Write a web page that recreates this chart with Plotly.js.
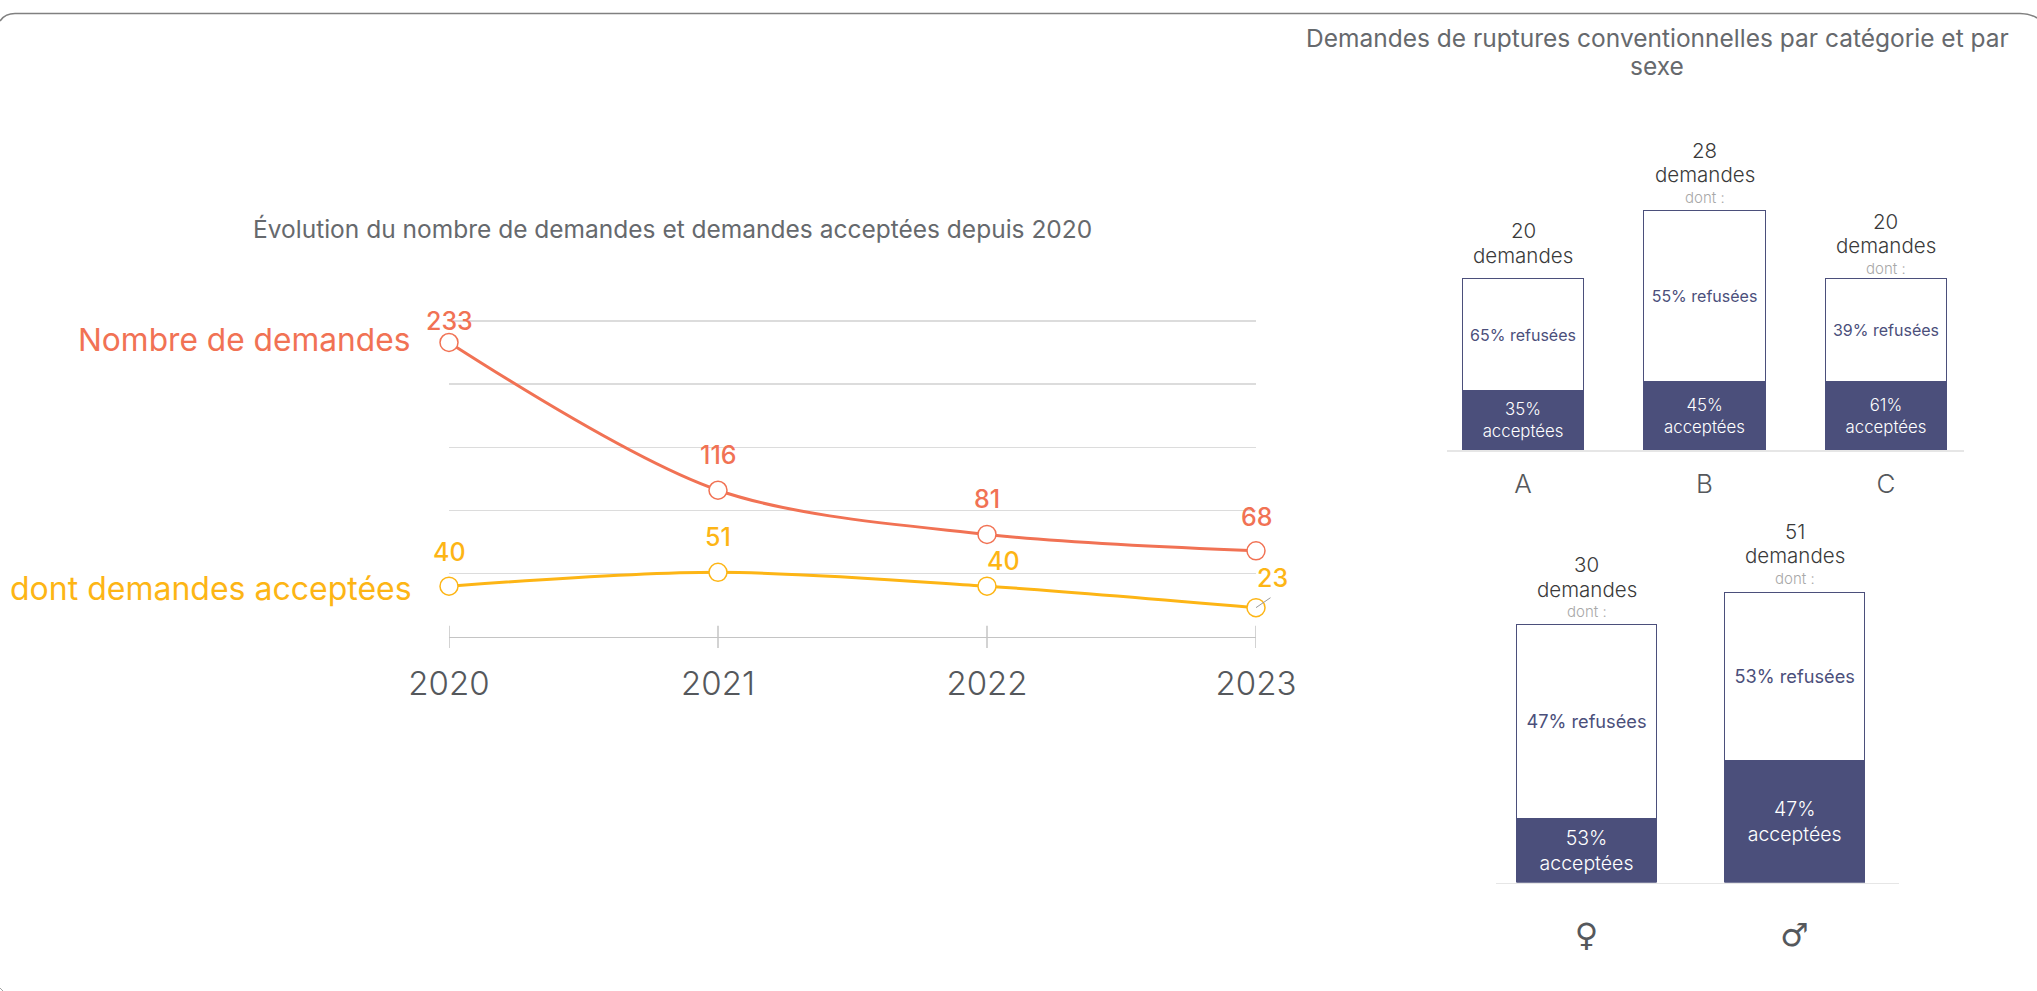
<!DOCTYPE html>
<html><head><meta charset="utf-8">
<script src="https://cdn.plot.ly/plotly-3.0.1.min.js"></script>
<style>html,body{margin:0;padding:0;background:#fff;overflow:hidden}</style>
</head><body><div id="chart" style="width:2037px;height:991px"></div>
<script>
// ---- data ----
const annees = [2020, 2021, 2022, 2023];
const nombreDemandes = [233, 116, 81, 68];
const demandesAcceptees = [40, 51, 40, 23];

const categories = ['A', 'B', 'C'];
const catTotaux = [20, 28, 20];
const catAcceptees = [7, 8, 8];
const catRefusees = [13, 20, 12];
const catTexteAcc = ['35%<br>acceptées', '45%<br>acceptées', '61%<br>acceptées'];
const catTexteRef = ['65% refusées', '55% refusées', '39% refusées'];
const catDont = [false, true, true];

const sexes = ['♀', '♂'];
const sexeTotaux = [30, 51];
const sexeAcceptees = [7.5, 14.2];
const sexeRefusees = [22.5, 19.6];
const sexeTexteAcc = ['53%<br>acceptées', '47%<br>acceptées'];
const sexeTexteRef = ['47% refusées', '53% refusées'];
const sexeDont = [true, true];

const titreGauche = 'Évolution du nombre de demandes et demandes acceptées depuis 2020';
const titreDroite1 = 'Demandes de ruptures conventionnelles par catégorie et par';
const titreDroite2 = 'sexe';
const nomSerie1 = 'Nombre de demandes';
const nomSerie2 = 'dont demandes acceptées';

// ---- style ----
const W = 2037, H = 991;
const FONT = 'Inter, "Open Sans", sans-serif';
const ROUGE = '#f17254', JAUNE = '#fdb515', NAVY = '#4b4f7b';
const px = v => v / W, py = v => 1 - v / H;

const traces = [];
function ligne(y, c, name) {
  traces.push({type: 'scatter', mode: 'lines+markers', x: annees, y, name,
    line: {color: c, width: 3, shape: 'spline', smoothing: 0.9},
    marker: {size: 18, color: '#fff', line: {color: c, width: 1.5}},
    cliponaxis: false, xaxis: 'x', yaxis: 'y', showlegend: false, hoverinfo: 'x+y'});
}
ligne(nombreDemandes, ROUGE, nomSerie1);
ligne(demandesAcceptees, JAUNE, nomSerie2);

function barres(cats, acc, ref, tAcc, tRef, xa, ya, width, sizeAcc, sizeRef) {
  traces.push({type: 'bar', x: cats, y: acc, text: tAcc, width, xaxis: xa, yaxis: ya,
    marker: {color: NAVY, line: {color: NAVY, width: 1}},
    textposition: 'inside', insidetextanchor: 'middle', textangle: 0, constraintext: 'none',
    insidetextfont: {family: FONT, size: sizeAcc, color: '#fff', weight: 300}, showlegend: false, hoverinfo: 'x+y'});
  traces.push({type: 'bar', x: cats, y: ref, text: tRef, width, xaxis: xa, yaxis: ya,
    marker: {color: '#fff', line: {color: NAVY, width: 1}},
    textposition: 'inside', insidetextanchor: 'middle', textangle: 0, constraintext: 'none',
    insidetextfont: {family: FONT, size: sizeRef, color: NAVY, weight: 400}, showlegend: false, hoverinfo: 'x+y'});
}
barres(categories, catAcceptees, catRefusees, catTexteAcc, catTexteRef, 'x2', 'y2', 0.669, 16.8, 16);
barres(sexes, sexeAcceptees, sexeRefusees, sexeTexteAcc, sexeTexteRef, 'x3', 'y3', 0.672, 19.5, 18.2);

const annotations = [];
function note(text, x, y, size, color, opt, weight) {
  annotations.push(Object.assign({text, x, y, showarrow: false, align: 'center', xanchor: 'center', yanchor: 'middle',
    font: {family: FONT, size, color, weight: weight || 400}}, opt));
}
const paper = {xref: 'paper', yref: 'paper'};
const GRIS = '#66696d';
note(titreGauche, px(672.7), py(228.6), 24.5, GRIS, paper);
note(titreDroite1, px(1657), py(37.7), 24.5, GRIS, paper);
note(titreDroite2, px(1657), py(66), 24.5, GRIS, paper);
note(nomSerie1, px(412), py(339), 31.7, ROUGE, Object.assign({xanchor: 'right'}, paper));
note(nomSerie2, px(414), py(588), 32, JAUNE, Object.assign({xanchor: 'right'}, paper));

// étiquettes de valeurs
const decal1 = [[0, -21], [0, -35], [0, -35], [0, -34]];
const decal2 = [[0, -34], [0, -35], [16, -25], [16, -30]];
function valeurs(y, c, dec) {
  y.forEach((v, i) => note(String(v), annees[i], v, 25, c, {xref: 'x', yref: 'y', xshift: dec[i][0], yshift: -dec[i][1]}, 500));
}
valeurs(nombreDemandes, ROUGE, decal1);
valeurs(demandesAcceptees, JAUNE, decal2);
// trait de rappel du « 23 »
annotations.push({x: annees[3], y: demandesAcceptees[3], xref: 'x', yref: 'y', text: '', showarrow: true,
  arrowhead: 0, arrowwidth: 1, arrowcolor: '#999', ax: 16, ay: -11, standoff: 0});

// totaux au-dessus des barres
function totaux(cats, tot, acc, ref, dont, xa, ya, decNb, decMot, decDont) {
  cats.forEach((c, i) => {
    const top = acc[i] + ref[i];
    const base = {xref: xa, yref: ya};
    note(String(tot[i]), c, top, 20.5, '#3a3a3a', Object.assign({yshift: decNb[i]}, base), 350);
    note('demandes', c, top, 20.5, '#3a3a3a', Object.assign({yshift: decMot[i]}, base), 350);
    if (dont[i]) note('dont :', c, top, 15, '#a8a8a8', Object.assign({yshift: decDont[i]}, base), 300);
  });
}
totaux(categories, catTotaux, catAcceptees, catRefusees, catDont, 'x2', 'y2', [48, 60.4, 57.7], [23.7, 36.4, 33.4], [0, 13, 10.4]);
totaux(sexes, sexeTotaux, sexeAcceptees, sexeRefusees, sexeDont, 'x3', 'y3', [60.7, 60.7], [35.7, 36.7], [13, 13.4]);

// cadre arrondi + petites graduations
const p = (x, y) => `${px(x)},${py(y)}`;
const shapes = [
  {type: 'path', xref: 'paper', yref: 'paper', layer: 'below',
   path: `M ${p(0, 21)} Q ${p(5, 13.5)} ${p(15, 13.5)} L ${p(2020, 13.5)} Q ${p(2030, 13.5)} ${p(2037, 18)}`,
   line: {color: '#808080', width: 1.5}},
  {type: 'path', xref: 'paper', yref: 'paper', layer: 'below',
   path: `M ${p(0, 988)} L ${p(3, 991)}`, line: {color: '#a0a0a0', width: 1}}
];
annees.forEach(a => shapes.push({type: 'line', xref: 'x', yref: 'paper', x0: a, x1: a, y0: py(625.7), y1: py(648), line: {color: '#c4c4c4', width: 1.5}}));

const yMax = 252, yPx = 315.7 / 250;
const layout = {
  width: W, height: H, margin: {l: 0, r: 0, t: 0, b: 0, pad: 0}, autosize: false,
  paper_bgcolor: '#fff', plot_bgcolor: 'rgba(0,0,0,0)', barmode: 'stack', showlegend: false,
  font: {family: FONT},
  xaxis: {domain: [px(449), px(1256)], range: [2020, 2023], tickmode: 'array', tickvals: annees, ticktext: annees.map(String),
    showgrid: false, zeroline: false, showline: true, linecolor: '#c4c4c4', linewidth: 1.5, ticks: '', anchor: 'y',
    tickfont: {family: FONT, size: 33, color: '#55585c', weight: 300}, ticklabelstandoff: 17},
  yaxis: {domain: [py(636.7), py(636.7 - yMax * yPx)], range: [0, yMax], tick0: 0, dtick: 50, showticklabels: false, ticks: '',
    showgrid: true, gridcolor: '#dcdcdc', gridwidth: 1.5, zeroline: false, showline: false, anchor: 'x'},
  xaxis2: {domain: [px(1447), px(1964)], type: 'category', categoryorder: 'array', categoryarray: categories, range: [-0.419, 2.43],
    showgrid: false, zeroline: false, showline: true, linecolor: '#e6e6e6', linewidth: 1.5, ticks: '', anchor: 'y2',
    tickfont: {family: FONT, size: 26, color: '#55585c', weight: 300}, ticklabelstandoff: 10},
  yaxis2: {domain: [py(450), py(40)], range: [0, (450 - 40) / 8.555], showgrid: false, zeroline: false, showticklabels: false, ticks: '', anchor: 'x2'},
  xaxis3: {domain: [px(1496), px(1899)], type: 'category', categoryorder: 'array', categoryarray: sexes, range: [-0.4347, 1.501],
    showgrid: false, zeroline: false, showline: true, linecolor: '#e6e6e6', linewidth: 1.5, ticks: '', anchor: 'y3',
    tickfont: {family: '"DejaVu Sans", sans-serif', size: 32, color: '#55585c'}, ticklabelstandoff: 24},
  yaxis3: {domain: [py(882.5), py(500)], range: [0, (882.5 - 500) / 8.59], showgrid: false, zeroline: false, showticklabels: false, ticks: '', anchor: 'x3'},
  annotations, shapes
};
Plotly.newPlot('chart', traces, layout, {displayModeBar: false, staticPlot: true});
</script></body></html>
